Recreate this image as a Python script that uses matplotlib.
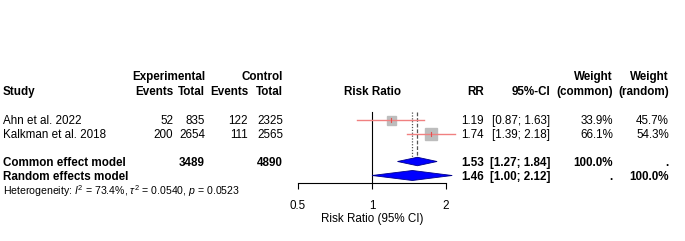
import numpy as np
import matplotlib
matplotlib.use("Agg")
import matplotlib.pyplot as plt

plt.rcParams['font.family'] = ['Liberation Sans', 'DejaVu Sans']
plt.rcParams['mathtext.fontset'] = 'custom'
plt.rcParams['mathtext.rm'] = 'Liberation Sans'
plt.rcParams['mathtext.it'] = 'Liberation Sans:italic'

# data
studies = ["Ahn et al. 2022", "Kalkman et al. 2018"]
ev_exp = [52, 200]
n_exp = [835, 2654]
ev_ctl = [122, 111]
n_ctl = [2325, 2565]
rr = [1.19, 1.74]
ci_lo = [0.87, 1.39]
ci_hi = [1.63, 2.18]
w_common = ["33.9%", "66.1%"]
w_random = ["45.7%", "54.3%"]

common_rr, common_lo, common_hi = 1.53, 1.27, 1.84
random_rr, random_lo, random_hi = 1.46, 1.00, 2.12
tot_exp, tot_ctl = 3489, 4890
het_text = r"Heterogeneity: $I^2$ = 73.4%, $\tau^2$ = 0.0540, $p$ = 0.0523"

# layout (pixels)
W, H = 685, 241
row_y = [121, 135]
y_common, y_random = 163, 177
fs = 8.4

fig = plt.figure(figsize=(W / 100, H / 100), dpi=100)

def txt(x, y, s, ha='right', bold=False, size=fs):
    fig.text(x / W, 1 - y / H, s, ha=ha, va='center', fontsize=size,
             fontweight='bold' if bold else 'normal')

# header
txt(205, 77, "Experimental", bold=True)
txt(283, 77, "Control", bold=True)
txt(613, 77, "Weight", bold=True)
txt(669, 77, "Weight", bold=True)
txt(3, 92, "Study", ha='left', bold=True)
for x, s in [(173, "Events"), (205, "Total"), (248, "Events"), (283, "Total"),
             (484, "RR"), (550, "95%-CI"), (613, "(common)"), (669, "(random)")]:
    txt(x, 92, s, bold=True)
txt(372, 92, "Risk Ratio", ha='center', bold=True)

# study rows
for i, y in enumerate(row_y):
    txt(3, y, studies[i], ha='left')
    txt(173, y, str(ev_exp[i]))
    txt(205, y, str(n_exp[i]))
    txt(248, y, str(ev_ctl[i]))
    txt(283, y, str(n_ctl[i]))
    txt(484, y, f"{rr[i]:.2f}")
    txt(550, y, f"[{ci_lo[i]:.2f}; {ci_hi[i]:.2f}]")
    txt(613, y, w_common[i])
    txt(669, y, w_random[i])

# pooled rows
txt(3, y_common, "Common effect model", ha='left', bold=True)
txt(205, y_common, str(tot_exp), bold=True)
txt(283, y_common, str(tot_ctl), bold=True)
txt(484, y_common, f"{common_rr:.2f}", bold=True)
txt(550, y_common, f"[{common_lo:.2f}; {common_hi:.2f}]", bold=True)
txt(613, y_common, "100.0%", bold=True)
txt(669, y_common, ".", bold=True)

txt(3, y_random, "Random effects model", ha='left', bold=True)
txt(484, y_random, f"{random_rr:.2f}", bold=True)
txt(550, y_random, f"[{random_lo:.2f}; {random_hi:.2f}]", bold=True)
txt(613, y_random, ".", bold=True)
txt(669, y_random, "100.0%", bold=True)

txt(3, 191, het_text, ha='left', size=7.6)

# forest panel
ax_top, ax_bot = 105, 183
ax = fig.add_axes([298 / W, 1 - ax_bot / H, 148 / W, (ax_bot - ax_top) / H])
ax.set_xscale('log')
ax.set_xlim(0.5, 2)
ax.set_ylim(ax_bot, ax_top)
ax.patch.set_visible(False)
for sp in ['top', 'right', 'left']:
    ax.spines[sp].set_visible(False)
ax.spines['bottom'].set_linewidth(0.8)
ax.set_yticks([])
ax.minorticks_off()
ax.set_xticks([0.5, 1, 2])
ax.set_xticklabels(["0.5", "1", "2"], fontsize=fs)
ax.tick_params(axis='x', length=4, width=0.8, pad=8)
ax.set_xlabel("Risk Ratio (95% CI)", fontsize=fs, labelpad=1)

# reference line and pooled estimate lines
ax.plot([1, 1], [112, ax_bot], color='black', lw=0.8, clip_on=False)
ax.plot([random_rr, random_rr], [112, 158], color='#555555', lw=0.9, ls=(0, (1, 1.3)), clip_on=False)
ax.plot([common_rr, common_rr], [112, 158], color='#555555', lw=0.9, ls=(0, (3, 1.5)), clip_on=False)

# study squares and CIs
sq = [9, 12.5]
for i, y in enumerate(row_y):
    y = y - 1
    ax.plot(rr[i], y, marker='s', ms=sq[i] * 0.72, color='#bdbdbd', mec='#bdbdbd', ls='none',
            clip_on=False, zorder=2)
    ax.plot([ci_lo[i], ci_hi[i]], [y, y], color='#f08080', lw=1.0, clip_on=False, zorder=3)
    ax.plot([rr[i], rr[i]], [y - 2, y + 2], color='#e05050', lw=0.8, clip_on=False, zorder=4)

# diamonds
def diamond(est, lo, hi, y, h):
    xs = [lo, est, hi, est, lo]
    ys = [y, y - h / 2, y, y + h / 2, y]
    ax.fill(xs, ys, facecolor='#0000ff', edgecolor='#00008b', lw=0.6, clip_on=False, zorder=3)

diamond(common_rr, common_lo, common_hi, y_common - 1.5, 8.5)
diamond(random_rr, random_lo, random_hi, y_random - 1.5, 10)

fig.savefig("out.png", dpi=100)
